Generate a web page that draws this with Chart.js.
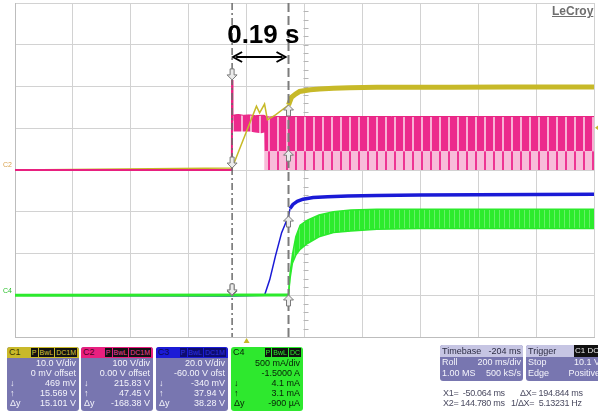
<!DOCTYPE html>
<html>
<head>
<meta charset="utf-8">
<title>Scope capture</title>
<script src="https://cdn.jsdelivr.net/npm/chart.js@4.4.0/dist/chart.umd.min.js"></script>
<style>
  body { margin: 0; background: #fff; overflow: hidden; }
  #wrap { position: relative; width: 598px; height: 415px; font-family: "Liberation Sans", Arial, sans-serif; }
  #scope { position: absolute; left: 0; top: 0; }
  .brand { position: absolute; left: 552px; top: 4px; font-size: 12px; font-weight: bold; color: #6e6e6e; text-decoration: underline; }
  .ch { position: absolute; top: 347px; width: 72px; height: 64px; border-radius: 3px; background: #7876b0; color: #f4f4fb; font-size: 9px; line-height: 10px; overflow: hidden; }
  .ch .hd { height: 11px; display: flex; line-height: 11px; }
  .ch .tag { width: 16px; padding-left: 2px; }
  .ch .flags { flex: 1; display: flex; justify-content: flex-end; gap: 1px; padding: 1px 2px 1px 0; font-size: 7px; line-height: 9px; }
  .ch .flags span { background: #111; padding: 0 1px; }
  .ch .r { position: relative; height: 10px; text-align: right; padding-right: 3px; }
  .ch .r .k { position: absolute; left: 3px; }
  .c1 .hd { background: #c9b92a; color: #3a3500; } .c1 .flags span { color: #d6c63a; }
  .c2 .hd { background: #e8207f; color: #4a0022; } .c2 .flags span { color: #f0409a; }
  .c3 .hd { background: #1b1bd6; color: #0a0a50; } .c3 .flags span { background: #0c0c70; color: #3030e0; }
  .c4 { background: #2ee82e; color: #062006; } .c4 .hd { color: #062006; } .c4 .flags span { color: #2ee82e; }
  .box { position: absolute; top: 345px; height: 36px; border-radius: 3px; background: #7876b0; color: #f4f4fb; font-size: 9px; overflow: hidden; }
  .box .r { display: flex; justify-content: space-between; height: 11px; line-height: 11px; padding: 0 2px; }
  .box .r.hd { background: #c6c5e3; color: #2c2c44; height: 12px; line-height: 12px; }
  .box .badge { background: #111; color: #eee; padding: 0 1px; font-size: 8px; }
  .read { position: absolute; font-size: 9px; color: #4a4a60; line-height: 10px; white-space: pre; letter-spacing: -0.3px; }
</style>
</head>
<body>
<div id="wrap">
  <canvas id="scope" width="598" height="415"></canvas>
  <div class="brand">LeCroy</div>

  <div class="ch c1" style="left:7px">
    <div class="hd"><span class="tag">C1</span><span class="flags"><span>P</span><span>BwL</span><span>DC1M</span></span></div>
    <div class="r">10.0 V/div</div>
    <div class="r">0 mV offset</div>
    <div class="r"><span class="k">↓</span>469 mV</div>
    <div class="r"><span class="k">↑</span>15.569 V</div>
    <div class="r"><span class="k">Δy</span>15.101 V</div>
  </div>
  <div class="ch c2" style="left:81px">
    <div class="hd"><span class="tag">C2</span><span class="flags"><span>P</span><span>BwL</span><span>DC1M</span></span></div>
    <div class="r">100 V/div</div>
    <div class="r">0.00 V offset</div>
    <div class="r"><span class="k">↓</span>215.83 V</div>
    <div class="r"><span class="k">↑</span>47.45 V</div>
    <div class="r"><span class="k">Δy</span>-168.38 V</div>
  </div>
  <div class="ch c3" style="left:156px">
    <div class="hd"><span class="tag">C3</span><span class="flags"><span>P</span><span>BwL</span><span>DC1M</span></span></div>
    <div class="r">20.0 V/div</div>
    <div class="r">-60.00 V ofst</div>
    <div class="r"><span class="k">↓</span>-340 mV</div>
    <div class="r"><span class="k">↑</span>37.94 V</div>
    <div class="r"><span class="k">Δy</span>38.28 V</div>
  </div>
  <div class="ch c4" style="left:231px">
    <div class="hd"><span class="tag">C4</span><span class="flags"><span>P</span><span>BwL</span><span>DC</span></span></div>
    <div class="r">500 mA/div</div>
    <div class="r">-1.5000 A</div>
    <div class="r"><span class="k">↓</span>4.1 mA</div>
    <div class="r"><span class="k">↑</span>3.1 mA</div>
    <div class="r"><span class="k">Δy</span>-900 µA</div>
  </div>

  <div class="box" style="left:440px;width:83px">
    <div class="r hd"><span>Timebase</span><span>-204 ms</span></div>
    <div class="r"><span>Roll</span><span>200 ms/div</span></div>
    <div class="r"><span>1.00 MS</span><span>500 kS/s</span></div>
  </div>
  <div class="box" style="left:526px;width:76px">
    <div class="r hd"><span>Trigger</span><span class="badge">C1 DC</span></div>
    <div class="r"><span>Stop</span><span>10.1 V</span></div>
    <div class="r"><span>Edge</span><span>Positive</span></div>
  </div>
  <div class="read" style="left:443px;top:388px">X1=  -50.064 ms</div>
  <div class="read" style="left:520px;top:388px">ΔX= 194.844 ms</div>
  <div class="read" style="left:443px;top:398px">X2= 144.780 ms</div>
  <div class="read" style="left:511px;top:398px">1/ΔX=  5.13231 Hz</div>
</div>

<script>
// roll mode, 200 ms/div over 10 divisions (ms)
const timeMin = -800;
const timeMax = 1200;
const timeStep = 200;

// cursor positions (ms) and the readings taken at them, per channel C1..C4
const cursorTimes = [-50.064, 144.78];
const x1Readings = [0.469, 215.83, -0.34, 0.0041];
const x2Readings = [15.569, 47.45, 37.94, 0.0031];
const triggerTime = 0;
const triggerLevel = 10.1;

// C1 output voltage (V)
const c1Times = [-800, -50.064, 34, 45, 62, 72, 100, 144.78, 155, 169, 183, 220, 252, 300, 355, 450, 527, 700, 900, 1200];
const c1Volts = [0, 0.469, 15.3, 13.7, 15.8, 12.0, 13.2, 15.569, 17.4, 18.2, 18.8, 19.2, 19.4, 19.6, 19.7, 19.8, 19.8, 19.8, 19.9, 19.9];

// C2 switch node: start-up spike, then the switching envelope (V)
const c2Times = [-800, -51, -50.064, -49.2, -48.5];
const c2Volts = [0, 0, 215.83, 150, 118];
const c2BandTimes = [-48.5, -30, -10, 10, 30, 50, 61, 63, 80, 100, 144.78, 200, 300, 500, 800, 1200];
const c2BandLow = [92, 92, 92, 92, 90, 88, 90, 0, 0, 0, 0, 0, 0, 0, 0, 0];
const c2BandMid = [92, 92, 92, 92, 90, 88, 90, 45, 45, 45, 45, 45, 45, 45, 45, 45];
const c2BandHigh = [131, 133, 131, 132, 130, 131, 131, 128, 127, 128, 128, 128, 128, 128, 128, 128];

// C3 bus voltage (V)
const c3Times = [-800, -50.064, 62, 80, 100, 121, 144.78, 150, 160, 175, 195, 230, 280, 350, 450, 600, 800, 1000, 1200];
const c3Volts = [0, -0.34, 0, 7.5, 19, 30, 37.94, 41.5, 43.5, 45.0, 46.0, 46.8, 47.2, 47.5, 47.8, 48.0, 48.2, 48.3, 48.4];

// C4 load current ripple envelope (A)
const c4Times = [-800, 144.78, 150, 158, 170, 185, 210, 250, 300, 360, 450, 600, 800, 1000, 1200];
const c4Low = [0, 0.0031, 0.2, 0.38, 0.48, 0.55, 0.62, 0.7, 0.75, 0.77, 0.79, 0.8, 0.8, 0.8, 0.8];
const c4High = [0, 0.0031, 0.26, 0.48, 0.7, 0.84, 0.9, 0.96, 1.0, 1.02, 1.03, 1.03, 1.03, 1.03, 1.03];

const yellow = 'rgb(199,185,40)';
const pink = 'rgb(232,32,127)';
const blue = 'rgb(26,26,214)';
const green = 'rgb(44,234,44)';

const canvas = document.getElementById('scope');
const ctx = canvas.getContext('2d');

const stripes = (base, streak, period, width) => {
  const tile = document.createElement('canvas');
  tile.width = period;
  tile.height = 1;
  const t = tile.getContext('2d');
  t.fillStyle = base;
  t.fillRect(0, 0, period, 1);
  t.fillStyle = streak;
  t.fillRect(period - width, 0, width, 1);
  return ctx.createPattern(tile, 'repeat');
};

const toPoints = (xs, ys) => xs.map((x, i) => ({ x: x, y: ys[i] }));

const trace = (data, axis, color, width, order, extra) =>
  Object.assign({ data: data, yAxisID: axis, borderColor: color, borderWidth: width, order: order, fill: false }, extra || {});

const datasets = [
  trace(toPoints(c2BandTimes, c2BandLow), 'yC2', 'rgba(0,0,0,0)', 0, 4),
  trace(toPoints(c2BandTimes, c2BandMid), 'yC2', 'rgba(0,0,0,0)', 0, 4, { fill: '-1', backgroundColor: stripes('#f8bcd9', '#ee3593', 9, 2) }),
  trace(toPoints(c2BandTimes, c2BandHigh), 'yC2', pink, 1, 4, { fill: '-1', backgroundColor: stripes('#ec2a8c', '#f8b0d4', 9, 2) }),
  trace(toPoints(c4Times, c4Low), 'yC4', green, 1.5, 1, {
    segment: { borderWidth: (s) => (s.p0.parsed.x < 140 ? 3 : 1.5) },
  }),
  trace(toPoints(c4Times, c4High), 'yC4', green, 1.5, 1, { fill: '-1', backgroundColor: stripes('#2ceb2c', '#66f166', 5, 1) }),
  trace(toPoints(c1Times, c1Volts), 'yC1', yellow, 1.5, 3, {
    segment: { borderWidth: (s) => (s.p0.parsed.x < 140 ? 1.5 : 5) },
  }),
  trace(toPoints(c3Times, c3Volts), 'yC3', blue, 1.5, 2, {
    segment: { borderWidth: (s) => (s.p0.parsed.x < 148 ? 1.5 : 3.5) },
  }),
  trace(toPoints(c2Times, c2Volts), 'yC2', pink, 2, 0),
];

const gridColor = '#d2d2d2';
const frameColor = '#bdbdbd';

// cursor marker: small block arrow with its tip on the trace
const cursorMark = (c, px, py, dir) => {
  c.beginPath();
  c.moveTo(px, py);
  c.lineTo(px - 5, py - 5 * dir);
  c.lineTo(px - 2, py - 5 * dir);
  c.lineTo(px - 2, py - 11 * dir);
  c.lineTo(px + 2, py - 11 * dir);
  c.lineTo(px + 2, py - 5 * dir);
  c.lineTo(px + 5, py - 5 * dir);
  c.closePath();
  c.fillStyle = '#ececec';
  c.fill();
  c.lineWidth = 1;
  c.strokeStyle = '#7a7a7a';
  c.stroke();
};

const scopeOverlay = {
  id: 'scopeOverlay',
  beforeDatasetsDraw(chart) {
    const { ctx: c, chartArea: area, scales } = chart;
    // minor ticks on the centre graticule line
    const cx = Math.round(scales.x.getPixelForValue((timeMin + timeMax) / 2)) + 0.5;
    const divY = (area.bottom - area.top) / 8;
    c.save();
    c.strokeStyle = '#b5b5b5';
    c.lineWidth = 1;
    c.beginPath();
    for (let k = 1; k < 40; k++) {
      const py = Math.round(area.top + (k * divY) / 5) + 0.5;
      c.moveTo(cx - 2, py);
      c.lineTo(cx + 3, py);
    }
    c.stroke();
    c.restore();
  },
  afterDatasetsDraw(chart) {
    const { ctx: c, chartArea: area, scales } = chart;
    const axes = ['yC1', 'yC2', 'yC3', 'yC4'];
    const x1 = scales.x.getPixelForValue(cursorTimes[0]);
    const x2 = scales.x.getPixelForValue(cursorTimes[1]);
    c.save();

    // time cursors
    c.strokeStyle = '#6c6c6c';
    c.lineWidth = 1.5;
    c.setLineDash([7, 3, 2, 3]);
    c.beginPath();
    c.moveTo(x1, area.top);
    c.lineTo(x1, area.bottom);
    c.stroke();
    c.strokeStyle = '#7c7c7c';
    c.lineWidth = 2;
    c.setLineDash([9, 4]);
    c.beginPath();
    c.moveTo(x2, area.top);
    c.lineTo(x2, area.bottom);
    c.stroke();
    c.setLineDash([]);

    // cursor readout markers
    axes.forEach((id, i) => {
      cursorMark(c, x1, scales[id].getPixelForValue(x1Readings[i]), 1);
      cursorMark(c, x2, scales[id].getPixelForValue(x2Readings[i]), -1);
    });

    // trigger position and level markers
    const tx = scales.x.getPixelForValue(triggerTime);
    c.fillStyle = yellow;
    c.beginPath();
    c.moveTo(tx, area.bottom + 1);
    c.lineTo(tx - 3, area.bottom + 6);
    c.lineTo(tx + 3, area.bottom + 6);
    c.closePath();
    c.fill();
    const ty = scales.yC1.getPixelForValue(triggerLevel);
    c.beginPath();
    c.moveTo(area.right + 1, ty);
    c.lineTo(area.right + 5, ty - 3);
    c.lineTo(area.right + 5, ty + 3);
    c.closePath();
    c.fill();

    // channel ground markers
    c.font = '7px "Liberation Sans", Arial, sans-serif';
    c.textBaseline = 'bottom';
    c.fillStyle = '#d9a24e';
    c.fillText('C2', 3, scales.yC2.getPixelForValue(0) - 1);
    c.fillStyle = '#2cc02c';
    c.fillText('C4', 3, scales.yC4.getPixelForValue(0) - 1);

    // measured interval between the cursors
    const label = ((cursorTimes[1] - cursorTimes[0]) / 1000).toFixed(2) + ' s';
    c.fillStyle = '#000';
    c.font = 'bold 26px "Liberation Sans", Arial, sans-serif';
    c.textAlign = 'center';
    c.textBaseline = 'alphabetic';
    c.fillText(label, (x1 + x2) / 2 + 3, area.top + 40);
    const ay = area.top + 54;
    const a0 = x1 + 1;
    const a1 = x2 - 3;
    c.strokeStyle = '#000';
    c.lineWidth = 2;
    c.beginPath();
    c.moveTo(a0 + 3, ay);
    c.lineTo(a1 - 3, ay);
    c.stroke();
    c.beginPath();
    c.moveTo(a0 + 9, ay - 5);
    c.lineTo(a0, ay);
    c.lineTo(a0 + 9, ay + 5);
    c.moveTo(a1 - 9, ay - 5);
    c.lineTo(a1, ay);
    c.lineTo(a1 - 9, ay + 5);
    c.stroke();
    c.restore();
  },
};

const hiddenAxis = (min, max) => ({ display: false, min: min, max: max });

new Chart(canvas, {
  type: 'line',
  data: { datasets: datasets },
  options: {
    responsive: false,
    animation: false,
    layout: { padding: { left: 15, top: 3, right: 4, bottom: 78 } },
    plugins: { legend: { display: false }, tooltip: { enabled: false } },
    elements: { point: { radius: 0 }, line: { tension: 0 } },
    scales: {
      x: {
        type: 'linear',
        min: timeMin,
        max: timeMax,
        ticks: { display: false, stepSize: timeStep },
        grid: { color: gridColor, drawTicks: false },
        border: { color: frameColor },
      },
      yC1: {
        position: 'left',
        min: -40,
        max: 40,
        ticks: { display: false, stepSize: 10 },
        grid: { color: gridColor, drawTicks: false },
        border: { color: frameColor },
      },
      yC2: hiddenAxis(-400, 400),
      yC3: hiddenAxis(-20, 140),
      yC4: hiddenAxis(-0.5, 3.5),
    },
  },
  plugins: [scopeOverlay],
});
</script>
</body>
</html>
